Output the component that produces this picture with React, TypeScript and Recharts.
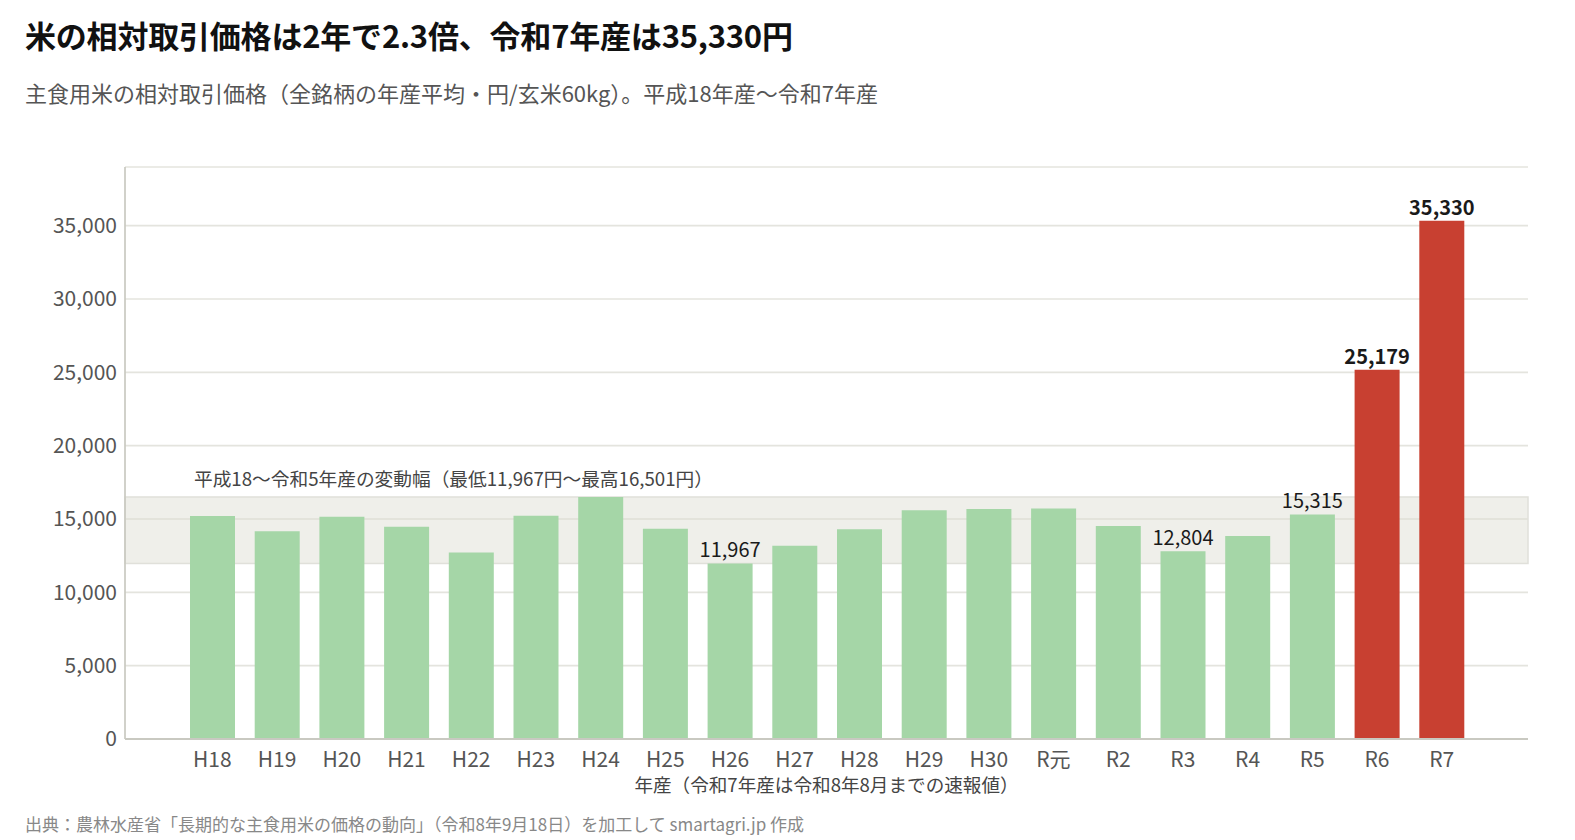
import React from 'react';
import {
  BarChart,
  Bar,
  XAxis,
  YAxis,
  CartesianGrid,
  ReferenceArea,
  LabelList,
  Label,
  Cell,
} from 'recharts';

// 年産 (categories)
const years = [
  'H18', 'H19', 'H20', 'H21', 'H22', 'H23', 'H24', 'H25', 'H26', 'H27',
  'H28', 'H29', 'H30', 'R元', 'R2', 'R3', 'R4', 'R5', 'R6', 'R7',
];

// 相対取引価格 (円/玄米60kg)
const prices = [
  15203, 14164, 15146, 14470, 12711, 15215, 16501, 14341, 11967, 13175,
  14307, 15595, 15688, 15716, 14529, 12804, 13844, 15315, 25179, 35330,
];

// years whose value is printed above the bar
const labelledYears = ['H26', 'R3', 'R5', 'R6', 'R7'];
const highlightYears = ['R6', 'R7'];

const rangeLow = 11967;
const rangeHigh = 16501;
const yTicks = [0, 5000, 10000, 15000, 20000, 25000, 30000, 35000];

const data = years.map((year, i) => ({ year, price: prices[i] }));

const FONT = '"Noto Sans CJK JP", "Noto Sans", sans-serif';
const GREEN = '#a5d6a7';
const RED = '#c84031';
const PAD_L = 55;
const PAD_R = 54;

const fmt = (v: number) => v.toLocaleString('en-US');

const ValueLabel = (props: any) => {
  const { x, y, width, value, index } = props;
  const year = years[index];
  if (!labelledYears.includes(year)) return null;
  const bold = highlightYears.includes(year);
  return (
    <text
      x={x + width / 2}
      y={y - 6}
      textAnchor="middle"
      fontFamily={FONT}
      fontSize={20}
      fontWeight={bold ? 700 : 400}
      fill="#1a1a1a"
    >
      {fmt(value)}
    </text>
  );
};

// band spans the whole plot, not just the padded category range
const BandShape = (props: any) => {
  const { x, y, width, height } = props;
  return (
    <rect
      x={x - PAD_L}
      y={y}
      width={width + PAD_L + PAD_R}
      height={height}
      fill="#d8d8ce"
      fillOpacity={0.42}
      stroke="#e0e0da"
      strokeWidth={1.5}
    />
  );
};

const RangeLabel = (props: any) => {
  const { viewBox } = props;
  return (
    <text
      x={viewBox.x - PAD_L + 69}
      y={viewBox.y - 11}
      fontFamily={FONT}
      fontSize={18.7}
      fill="#444"
    >
      平成18〜令和5年産の変動幅（最低11,967円〜最高16,501円）
    </text>
  );
};

export default function App() {
  return (
    <div
      style={{
        position: 'absolute',
        left: 0,
        top: 0,
        width: 1575,
        height: 840,
        background: '#fff',
        fontFamily: FONT,
      }}
    >
      <div
        style={{
          position: 'absolute',
          left: 25,
          top: 12,
          fontSize: 31,
          fontWeight: 700,
          letterSpacing: -0.2,
          color: '#111',
          whiteSpace: 'nowrap',
        }}
      >
        米の相対取引価格は2年で2.3倍、令和7年産は35,330円
      </div>
      <div
        style={{
          position: 'absolute',
          left: 25,
          top: 76,
          fontSize: 22,
          color: '#555',
          whiteSpace: 'nowrap',
        }}
      >
        主食用米の相対取引価格（全銘柄の年産平均・円/玄米60kg）。平成18年産〜令和7年産
      </div>

      <div style={{ position: 'absolute', left: 0, top: 0 }}>
        <BarChart
          width={1575}
          height={840}
          data={data}
          margin={{ top: 167, right: 47, bottom: 41, left: 25 }}
          barSize={45}
        >
          <CartesianGrid vertical={false} stroke="#e4e4de" strokeWidth={1.7} />
          <ReferenceArea
            y1={rangeLow}
            y2={rangeHigh}
            shape={<BandShape />}
            ifOverflow="extendDomain"
          >
            <Label content={<RangeLabel />} />
          </ReferenceArea>
          <XAxis
            dataKey="year"
            tickLine={false}
            tickSize={0}
            tickMargin={13}
            axisLine={{ stroke: '#c9c9c1', strokeWidth: 2 }}
            tick={{ fontFamily: FONT, fontSize: 21, fill: '#555' }}
            padding={{ left: PAD_L, right: PAD_R }}
            height={60}
            interval={0}
          >
            <Label
              value="年産（令和7年産は令和8年8月までの速報値）"
              position="insideBottom"
              offset={7}
              style={{ fontFamily: FONT, fontSize: 18.6, fill: '#444' }}
            />
          </XAxis>
          <YAxis
            width={100}
            domain={[0, 39000]}
            ticks={yTicks}
            tickLine={false}
            tickSize={0}
            tickMargin={8}
            tickFormatter={fmt}
            axisLine={{ stroke: '#c9c9c1', strokeWidth: 1.7 }}
            tick={{ fontFamily: FONT, fontSize: 21, fill: '#555' }}
          />
          <Bar dataKey="price" isAnimationActive={false}>
            {data.map((d) => (
              <Cell
                key={d.year}
                fill={highlightYears.includes(d.year) ? RED : GREEN}
              />
            ))}
            <LabelList dataKey="price" content={<ValueLabel />} />
          </Bar>
        </BarChart>
      </div>

      <div
        style={{
          position: 'absolute',
          left: 25,
          top: 811,
          fontSize: 17,
          color: '#888',
          whiteSpace: 'nowrap',
        }}
      >
        出典：農林水産省「長期的な主食用米の価格の動向」（令和8年9月18日）を加工して smartagri.jp 作成
      </div>
    </div>
  );
}
